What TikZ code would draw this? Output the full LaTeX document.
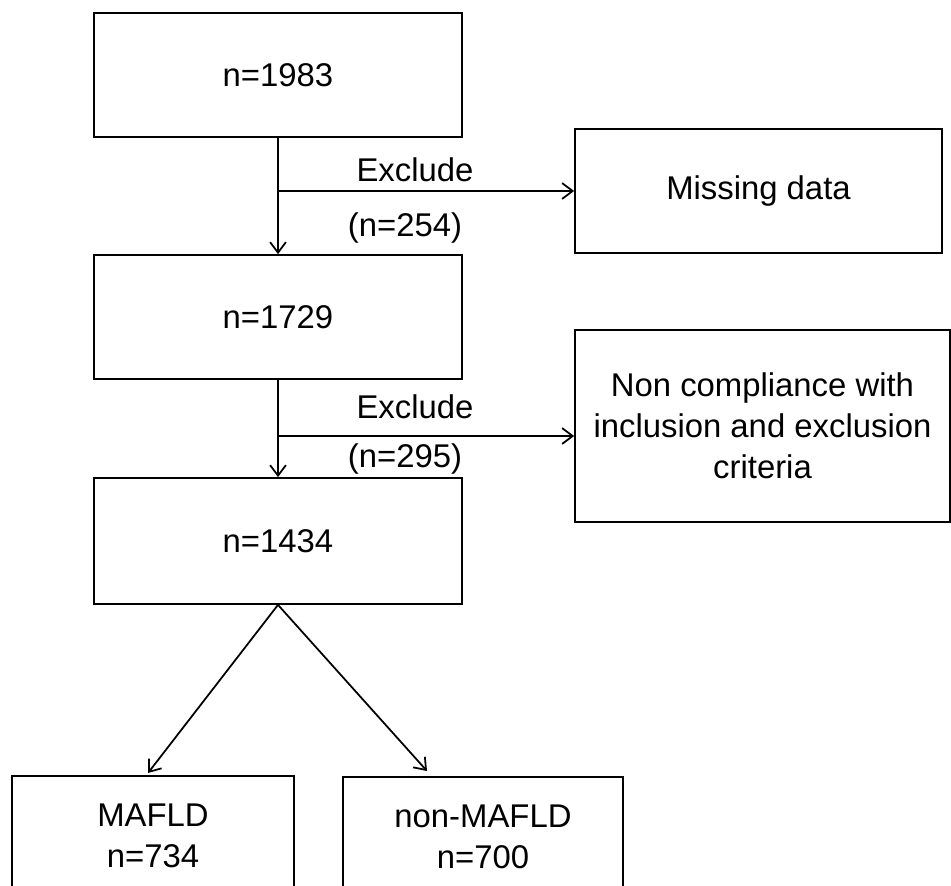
\documentclass[tikz,border=0pt]{standalone}
\usepackage{fontspec}
\setmainfont{Liberation Sans}
\usetikzlibrary{arrows.meta}
\begin{document}
\begin{tikzpicture}[x=0.02cm,y=-0.02cm,
  font=\fontsize{18.7}{23.4}\selectfont,
  box/.style={draw,line width=1pt,align=center,inner sep=0pt},
  arr/.style={line width=1pt,-{Straight Barb[length=6pt,width=9pt]}}]
  \useasboundingbox (0,0) rectangle (951,886) ;
  \node[box,minimum width=7.36cm,minimum height=2.48cm] (n1983) at (278,75) {n=1983} ;
  \node[box,minimum width=7.36cm,minimum height=2.48cm] (n1729) at (278,317) {n=1729} ;
  \node[box,minimum width=7.36cm,minimum height=2.52cm] (n1434) at (278,541) {n=1434} ;
  \node[box,minimum width=7.34cm,minimum height=2.48cm] (miss) at (758.5,191) {Missing data} ;
  \node[box,minimum width=7.5cm,minimum height=3.84cm] (crit) at (762.5,426)
    {Non compliance with\\inclusion and exclusion\\criteria} ;
  \node[box,minimum width=5.64cm,minimum height=2.4cm] (mafld) at (153,836) {MAFLD\\n=734} ;
  \node[box,minimum width=5.6cm,minimum height=2.4cm] (nonmafld) at (483,837) {non-MAFLD\\n=700} ;

  \coordinate (j1) at (278,191) ;
  \coordinate (j2) at (278,436) ;
  \coordinate (tipL) at (148,773) ;
  \coordinate (tipR) at (427,771) ;

  \draw[arr] (n1983.south) -- (n1729.north) ;
  \draw[arr] (j1) -- (miss.west) ;
  \node (ex1) at (415,170) {Exclude} ;
  \node (cnt1) at (405,228) {(n=254)} ;

  \draw[arr] (n1729.south) -- (n1434.north) ;
  \draw[arr] (j2) -- (j2 -| crit.west) ;
  \node (ex2) at (415,407) {Exclude} ;
  \node (cnt2) at (405,459) {(n=295)} ;

  \draw[arr] (n1434.south) -- (tipL) ;
  \draw[arr] (n1434.south) -- (tipR) ;
\end{tikzpicture}
\end{document}
